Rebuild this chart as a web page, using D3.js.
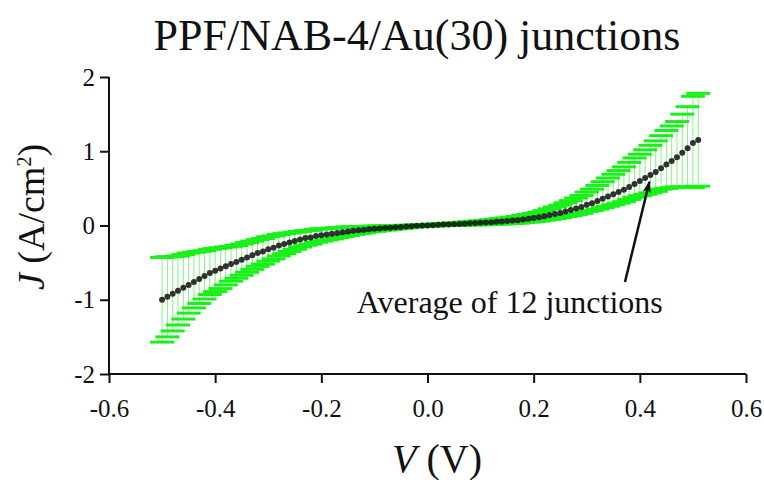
<!doctype html>
<html>
<head>
  <meta charset="utf-8">
  <script src="https://cdnjs.cloudflare.com/ajax/libs/d3/7.8.5/d3.min.js"></script>
  <style>
    body { margin: 0; background: #fff; }
  </style>
</head>
<body>
  <svg id="chart" width="764" height="480"></svg>
  <script>
    // bias voltage (V), sweep -0.50 .. 0.51
    var voltage = [
      -0.50, -0.49, -0.48, -0.47, -0.46, -0.45, -0.44, -0.43, -0.42, -0.41,
      -0.40, -0.39, -0.38, -0.37, -0.36, -0.35, -0.34, -0.33, -0.32, -0.31,
      -0.30, -0.29, -0.28, -0.27, -0.26, -0.25, -0.24, -0.23, -0.22, -0.21,
      -0.20, -0.19, -0.18, -0.17, -0.16, -0.15, -0.14, -0.13, -0.12, -0.11,
      -0.10, -0.09, -0.08, -0.07, -0.06, -0.05, -0.04, -0.03, -0.02, -0.01,
      0.00, 0.01, 0.02, 0.03, 0.04, 0.05, 0.06, 0.07, 0.08, 0.09,
      0.10, 0.11, 0.12, 0.13, 0.14, 0.15, 0.16, 0.17, 0.18, 0.19,
      0.20, 0.21, 0.22, 0.23, 0.24, 0.25, 0.26, 0.27, 0.28, 0.29,
      0.30, 0.31, 0.32, 0.33, 0.34, 0.35, 0.36, 0.37, 0.38, 0.39,
      0.40, 0.41, 0.42, 0.43, 0.44, 0.45, 0.46, 0.47, 0.48, 0.49,
      0.50, 0.51
    ];
    // average current density (A/cm2) of 12 junctions
    var jMean = [
      -1.00, -0.96, -0.92, -0.88, -0.84, -0.80, -0.76, -0.72, -0.68, -0.64,
      -0.61, -0.58, -0.55, -0.52, -0.49, -0.46, -0.43, -0.40, -0.37, -0.35,
      -0.32, -0.30, -0.27, -0.25, -0.23, -0.21, -0.19, -0.17, -0.16, -0.14,
      -0.13, -0.12, -0.11, -0.10, -0.09, -0.08, -0.07, -0.065, -0.06, -0.05,
      -0.045, -0.04, -0.035, -0.03, -0.025, -0.02, -0.015, -0.01, -0.005, 0,
      0, 0.005, 0.01, 0.012, 0.015, 0.018, 0.02, 0.025, 0.03, 0.033,
      0.036, 0.04, 0.045, 0.05, 0.055, 0.06, 0.066, 0.072, 0.08, 0.09,
      0.10, 0.11, 0.125, 0.14, 0.155, 0.17, 0.19, 0.21, 0.23, 0.25,
      0.28, 0.30, 0.33, 0.36, 0.39, 0.42, 0.45, 0.48, 0.52, 0.56,
      0.60, 0.64, 0.68, 0.72, 0.77, 0.82, 0.87, 0.92, 0.98, 1.04,
      1.11, 1.15
    ];
    // error bar, upper part
    var errUp = [
      0.57, 0.54, 0.50, 0.47, 0.45, 0.43, 0.40, 0.37, 0.34, 0.32,
      0.30, 0.28, 0.26, 0.24, 0.22, 0.21, 0.20, 0.19, 0.18, 0.175,
      0.17, 0.16, 0.15, 0.14, 0.13, 0.12, 0.11, 0.10, 0.095, 0.09,
      0.085, 0.08, 0.075, 0.07, 0.065, 0.06, 0.055, 0.05, 0.045, 0.04,
      0.037, 0.034, 0.03, 0.027, 0.024, 0.021, 0.018, 0.015, 0.013, 0.012,
      0.012, 0.012, 0.013, 0.014, 0.015, 0.017, 0.019, 0.021, 0.023, 0.025,
      0.027, 0.03, 0.033, 0.036, 0.04, 0.043, 0.046, 0.05, 0.054, 0.058,
      0.062, 0.068, 0.075, 0.085, 0.095, 0.105, 0.115, 0.125, 0.14, 0.155,
      0.17, 0.19, 0.21, 0.23, 0.25, 0.27, 0.29, 0.31, 0.33, 0.35,
      0.36, 0.38, 0.40, 0.42, 0.44, 0.46, 0.47, 0.48, 0.52, 0.56,
      0.63, 0.63
    ];
    // error bar, lower part
    var errDown = [
      0.57, 0.54, 0.50, 0.46, 0.42, 0.38, 0.35, 0.33, 0.31, 0.29,
      0.28, 0.27, 0.25, 0.23, 0.22, 0.21, 0.20, 0.19, 0.18, 0.17,
      0.16, 0.15, 0.14, 0.13, 0.12, 0.11, 0.10, 0.095, 0.09, 0.085,
      0.08, 0.075, 0.07, 0.065, 0.06, 0.055, 0.05, 0.045, 0.04, 0.036,
      0.033, 0.03, 0.027, 0.024, 0.021, 0.018, 0.016, 0.014, 0.012, 0.012,
      0.012, 0.012, 0.012, 0.013, 0.014, 0.016, 0.018, 0.02, 0.022, 0.024,
      0.026, 0.028, 0.03, 0.032, 0.034, 0.036, 0.038, 0.04, 0.042, 0.044,
      0.047, 0.05, 0.053, 0.057, 0.061, 0.066, 0.071, 0.076, 0.081, 0.086,
      0.09, 0.10, 0.11, 0.12, 0.13, 0.14, 0.15, 0.16, 0.17, 0.18,
      0.20, 0.22, 0.24, 0.26, 0.28, 0.32, 0.36, 0.40, 0.46, 0.52,
      0.60, 0.62
    ];
    var xTicks = [-0.6, -0.4, -0.2, 0.0, 0.2, 0.4, 0.6];
    var yTicks = [-2, -1, 0, 1, 2];

    var serif = "'Liberation Serif', 'Times New Roman', Times, serif";
    var svg = d3.select("#chart");
    var x = d3.scaleLinear().domain([-0.6, 0.6]).range([109, 746]);
    var y = d3.scaleLinear().domain([-2, 2]).range([374, 77]);

    var data = voltage.map((v, i) => ({
      v: v, j: jMean[i], hi: jMean[i] + errUp[i], lo: jMean[i] - errDown[i]
    }));

    // error bars
    var bars = svg.append("g").attr("class", "errbars");
    bars.selectAll("line.stem")
      .data(data)
      .enter()
      .append("line")
      .attr("class", "stem")
      .attr("x1", d => x(d.v)).attr("x2", d => x(d.v))
      .attr("y1", d => y(d.hi)).attr("y2", d => y(d.lo))
      .style("stroke", "#3df03d")
      .style("stroke-width", 0.8)
      .style("opacity", 0.8);

    var capW = 12;
    ["hi", "lo"].forEach(function(k) {
      bars.selectAll("line.cap-" + k)
        .data(data)
        .enter()
        .append("line")
        .attr("class", "cap-" + k)
        .attr("x1", d => x(d.v) - capW).attr("x2", d => x(d.v) + capW)
        .attr("y1", d => y(d[k])).attr("y2", d => y(d[k]))
        .style("stroke", "#19f019")
        .style("stroke-width", 3);
    });

    // mean points
    svg.append("g")
      .selectAll("circle")
      .data(data)
      .enter()
      .append("circle")
      .attr("cx", d => x(d.v))
      .attr("cy", d => y(d.j))
      .attr("r", 3)
      .style("fill", "#111")
      .style("opacity", 0.85);

    // axes
    var xAxis = d3.axisBottom(x).tickValues(xTicks).tickSize(9).tickPadding(16)
      .tickFormat(d => d.toFixed(1));
    var yAxis = d3.axisLeft(y).tickValues(yTicks).tickSize(9).tickPadding(5)
      .tickFormat(d => String(d));

    var gx = svg.append("g").attr("transform", "translate(0,374)").call(xAxis);
    var gy = svg.append("g").attr("transform", "translate(109,0)").call(yAxis);
    [gx, gy].forEach(function(g) {
      g.attr("font-family", serif).attr("font-size", 25);
      g.select(".domain").style("stroke", "#111").style("stroke-width", 2);
      g.selectAll(".tick line").style("stroke", "#111").style("stroke-width", 2);
      g.selectAll(".tick text")
        .style("font-family", serif)
        .style("font-size", "25px")
        .style("fill", "#111");
    });
    gx.select(".domain").attr("d", "M109,0H746");
    gy.select(".domain").attr("d", "M0,77V374");

    // title
    svg.append("text")
      .attr("x", 417).attr("y", 50)
      .style("text-anchor", "middle")
      .style("font-family", serif)
      .style("font-size", "44px")
      .style("fill", "#111")
      .text("PPF/NAB-4/Au(30) junctions");

    // x axis label
    var xl = svg.append("text")
      .attr("x", 437).attr("y", 472)
      .style("text-anchor", "middle")
      .style("font-family", serif)
      .style("font-size", "40px")
      .style("fill", "#111");
    xl.append("tspan").style("font-style", "italic").text("V");
    xl.append("tspan").text(" (V)");

    // y axis label
    var yl = svg.append("text")
      .attr("transform", "translate(44,217) rotate(-90)")
      .style("text-anchor", "middle")
      .style("font-family", serif)
      .style("font-size", "38px")
      .style("fill", "#111");
    yl.append("tspan").style("font-style", "italic").text("J");
    yl.append("tspan").text(" (A/cm");
    yl.append("tspan").attr("dy", -13).style("font-size", "20px").text("2");
    yl.append("tspan").attr("dy", 13).text(")");

    // annotation
    svg.append("defs").append("marker")
      .attr("id", "head")
      .attr("viewBox", "0 0 12 8")
      .attr("refX", 11).attr("refY", 4)
      .attr("markerWidth", 12).attr("markerHeight", 8)
      .attr("markerUnits", "userSpaceOnUse")
      .attr("orient", "auto")
      .append("path")
      .attr("d", "M0,0L12,4L0,8L3,4Z")
      .style("fill", "#111");

    svg.append("line")
      .attr("x1", x(0.372)).attr("y1", y(-0.76))
      .attr("x2", x(0.418)).attr("y2", y(0.59))
      .style("stroke", "#111")
      .style("stroke-width", 2.5)
      .attr("marker-end", "url(#head)");

    svg.append("text")
      .attr("x", x(0.155)).attr("y", y(-1.18))
      .style("text-anchor", "middle")
      .style("font-family", serif)
      .style("font-size", "32px")
      .style("fill", "#111")
      .text("Average of 12 junctions");
  </script>
</body>
</html>
